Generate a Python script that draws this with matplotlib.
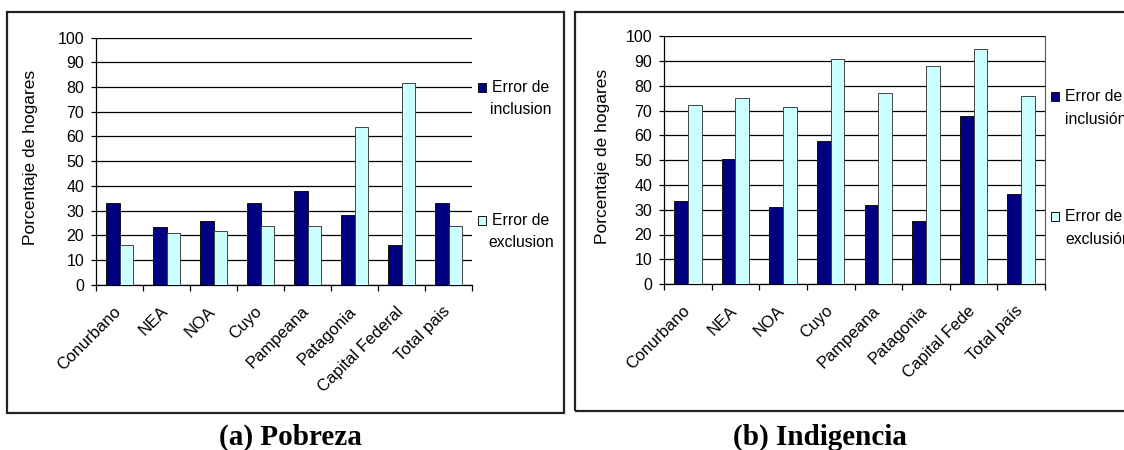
"""pobreza / indigencia targeting errors by region"""

import numpy as np
import matplotlib
matplotlib.use("Agg")
import matplotlib.pyplot as plt
from matplotlib.patches import Rectangle
from matplotlib.transforms import ScaledTranslation, blended_transform_factory

W, H = 1124, 450

regions_a = ["Conurbano", "NEA", "NOA", "Cuyo", "Pampeana", "Patagonia",
             "Capital Federal", "Total pais"]
regions_b = ["Conurbano", "NEA", "NOA", "Cuyo", "Pampeana", "Patagonia",
             "Capital Fede", "Total país"]

pobreza_inclusion = [33, 23.3, 25.8, 33, 37.8, 28.2, 16.1, 33]
pobreza_exclusion = [16.1, 20.8, 21.9, 23.9, 23.9, 63.7, 81.8, 23.9]

indigencia_inclusion = [33.6, 50.7, 31.3, 57.7, 31.8, 25.6, 67.9, 36.3]
indigencia_exclusion = [72.2, 75.2, 71.7, 91.0, 77.1, 88.0, 95.0, 76.1]

legend_a = [("Error de", "inclusion"), ("Error de", "exclusion")]
legend_b = [("Error de", "inclusión"), ("Error de", "exclusión")]

yticks = list(range(0, 101, 10))

NAVY = "#000080"
CYAN = "#CCFFFF"

plt.rcParams["font.family"] = ["Liberation Sans", "DejaVu Sans"]


def fx(x):
    return x / W


def fy(y):
    return 1 - y / H


def panel(fig, box, plot, names, incl, excl, legend, caption, right_spine,
          ylab_x):
    """draw one boxed panel: grouped bars, side legend and caption."""
    x0, y0, x1, y1 = box
    fig.patches.append(Rectangle((fx(x0), fy(y1)), fx(x1 - x0), (y1 - y0) / H,
                                 transform=fig.transFigure, fill=False,
                                 edgecolor="#222222", linewidth=1.6))

    px0, py0, px1, py1 = plot
    ax = fig.add_axes([fx(px0), fy(py1), fx(px1 - px0), (py1 - py0) / H])
    n = len(names)
    idx = np.arange(n)
    bw = 0.29
    ax.bar(idx - bw / 2, incl, width=bw, color=NAVY, edgecolor="#111111",
           linewidth=0.7, zorder=3)
    ax.bar(idx + bw / 2, excl, width=bw, color=CYAN, edgecolor="#444444",
           linewidth=0.7, zorder=3)

    ax.set_xlim(-0.5, n - 0.5)
    ax.set_ylim(0, 100)
    ax.set_yticks(yticks)
    ax.yaxis.grid(True, color="black", linewidth=0.9, zorder=0)
    ax.tick_params(axis="y", length=3.6, width=0.9, labelsize=11.5, pad=5)

    # category ticks sit on the group boundaries, names hang below centres
    ax.set_xticks(np.arange(n + 1) - 0.5)
    ax.set_xticklabels([])
    ax.tick_params(axis="x", length=4, width=0.9)
    trans = blended_transform_factory(ax.transData, ax.transAxes) + \
        ScaledTranslation(-0.06, -0.19, fig.dpi_scale_trans)
    for i, name in enumerate(names):
        ax.text(i, 0, name, transform=trans, rotation=45,
                rotation_mode="anchor", ha="right", va="top", fontsize=12,
                clip_on=False)

    for side in ("top", "right"):
        ax.spines[side].set_visible(False)
    if right_spine:
        ax.spines["right"].set_visible(True)
        ax.spines["right"].set_color("#555555")
    ax.spines["left"].set_linewidth(0.9)
    ax.spines["bottom"].set_linewidth(0.9)

    ax.set_ylabel("Porcentaje de hogares", fontsize=12.5, va="center")
    ax.yaxis.set_label_coords((ylab_x - px0) / (px1 - px0), 0.515)

    # legend entries stacked far apart on the right
    lx, tx, ty, gap, align, entries = legend
    for label, color, y in zip(entries, [NAVY, CYAN], ty):
        fig.patches.append(Rectangle((fx(lx), fy(y + 4.5)), fx(8), 9 / H,
                                     transform=fig.transFigure,
                                     facecolor=color, edgecolor="#111111",
                                     linewidth=0.7))
        fig.text(fx(tx), fy(y), label[0], fontsize=11.3, va="center",
                 ha=align)
        fig.text(fx(tx), fy(y + gap), label[1], fontsize=11.3, va="center",
                 ha=align)

    fig.text(fx(caption[0]), fy(caption[1]), caption[2], fontsize=21,
             family="Liberation Serif", fontweight="bold",
             ha="center", va="center")
    return ax


fig = plt.figure(figsize=(W / 100, H / 100), dpi=100)

panel(fig, (7, 12, 564, 413), (96, 37.7, 472, 284.7),
      regions_a, pobreza_inclusion, pobreza_exclusion,
      (478, 521, (87.5, 221), 21.5, "center", legend_a),
      (290, 437, "(a) Pobreza"), False, 31)

panel(fig, (575, 12, 1140, 411), (664, 36.5, 1045, 284),
      regions_b, indigencia_inclusion, indigencia_exclusion,
      (1051, 1065, (96.7, 216.7), 23, "left", legend_b),
      (820, 437, "(b) Indigencia"), True, 603)

fig.savefig("out.png", dpi=100)
